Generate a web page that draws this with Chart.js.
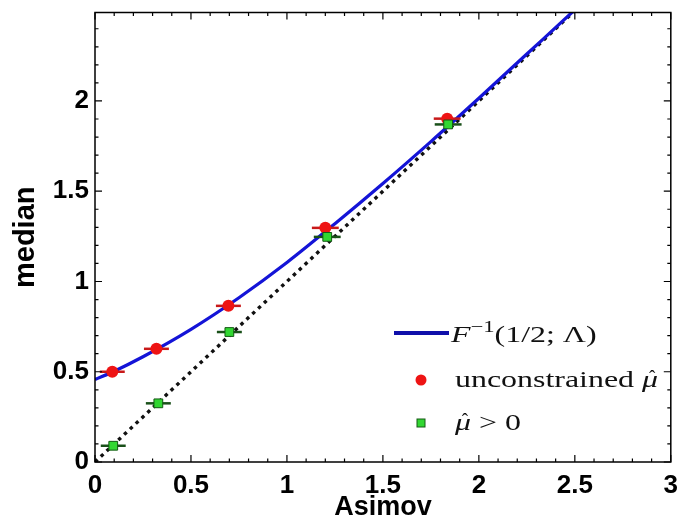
<!DOCTYPE html>
<html><head><meta charset="utf-8">
<script src="https://cdn.jsdelivr.net/npm/chart.js@4/dist/chart.umd.min.js"></script>
<style>html,body{margin:0;padding:0;background:#fff;}</style>
</head><body>
<canvas id="c" width="678" height="524"></canvas>
<script>
// ---- data ----
const curveX = [0, 0.1, 0.25, 0.5, 0.75, 1.0, 1.25, 1.5, 1.75, 2.0, 2.25, 2.5, 2.6];
const curveY = [0.457, 0.503, 0.583, 0.735, 0.91, 1.105, 1.32, 1.543, 1.775, 2.015, 2.26, 2.505, 2.605];
const diagX = [0, 2.6];
const diagY = [0, 2.6];
const redX = [0.09, 0.32, 0.695, 1.2, 1.835];
const redY = [0.50, 0.627, 0.865, 1.297, 1.902];
const redErr = [0.065, 0.065, 0.065, 0.07, 0.07];
const greenX = [0.095, 0.33, 0.70, 1.21, 1.84];
const greenY = [0.09, 0.325, 0.72, 1.247, 1.87];
const greenErr = [0.065, 0.065, 0.065, 0.07, 0.07];
const xTickVals = [0, 0.5, 1, 1.5, 2, 2.5, 3];
const yTickVals = [0, 0.5, 1, 1.5, 2];
const xTitle = 'Asimov';
const yTitle = 'median';

const pts = (xs, ys) => xs.map((x, i) => ({x, y: ys[i]}));
const BLUE = 'rgb(20,20,215)';
const RED = 'rgb(238,20,20)';
const GREEN = 'rgb(50,215,50)';

const errorBars = {
  id: 'errorBars',
  beforeDatasetDraw(chart, args) {
    const ds = chart.data.datasets[args.index];
    if (!ds.xErr) return;
    const {ctx, scales: {x, y}} = chart;
    ctx.save();
    ctx.strokeStyle = ds.errColor;
    ctx.lineWidth = 2.5;
    ds.data.forEach((p, i) => {
      const py = y.getPixelForValue(p.y);
      ctx.beginPath();
      ctx.moveTo(x.getPixelForValue(p.x - ds.xErr[i]), py);
      ctx.lineTo(x.getPixelForValue(p.x + ds.xErr[i]), py);
      ctx.stroke();
    });
    ctx.restore();
  }
};

const frameTicks = {
  id: 'frameTicks',
  afterDraw(chart) {
    const {ctx, chartArea: a, scales: {x, y}} = chart;
    ctx.save();
    ctx.strokeStyle = '#000';
    ctx.lineWidth = 1.5;
    ctx.strokeRect(a.left, a.top, a.right - a.left, a.bottom - a.top);
    ctx.lineWidth = 1.2;
    ctx.beginPath();
    for (let i = 0; i <= 30; i++) {
      const px = x.getPixelForValue(i / 10);
      const len = i % 5 === 0 ? 7 : 3.5;
      ctx.moveTo(px, a.bottom); ctx.lineTo(px, a.bottom - len);
      ctx.moveTo(px, a.top); ctx.lineTo(px, a.top + len);
    }
    for (let i = 0; i <= 24; i++) {
      const py = y.getPixelForValue(i / 10);
      const len = i % 5 === 0 ? 7 : 3.5;
      ctx.moveTo(a.left, py); ctx.lineTo(a.left + len, py);
      ctx.moveTo(a.right, py); ctx.lineTo(a.right - len, py);
    }
    ctx.stroke();
    ctx.restore();
  }
};

function drawRuns(ctx, x0, baseline, sx, runs) {
  let cx = x0;
  const pos = [];
  runs.forEach(r => {
    ctx.font = r.font;
    const w = ctx.measureText(r.t).width * sx;
    ctx.save();
    ctx.translate(cx, baseline + (r.dy || 0));
    ctx.scale(sx, 1);
    ctx.fillText(r.t, 0, 0);
    ctx.restore();
    pos.push({x: cx, w});
    cx += w;
  });
  return pos;
}

const legendPlugin = {
  id: 'legendBox',
  afterDraw(chart) {
    const ctx = chart.ctx;
    ctx.save();
    ctx.strokeStyle = 'rgb(15,15,170)';
    ctx.lineWidth = 4;
    ctx.beginPath(); ctx.moveTo(394, 333); ctx.lineTo(449, 333); ctx.stroke();
    ctx.fillStyle = RED;
    ctx.beginPath(); ctx.arc(421, 380, 5.5, 0, Math.PI * 2); ctx.fill();
    ctx.fillStyle = GREEN; ctx.strokeStyle = 'rgb(20,90,20)'; ctx.lineWidth = 1;
    ctx.fillRect(417, 419, 8, 8); ctx.strokeRect(417, 419, 8, 8);

    ctx.fillStyle = '#111';
    ctx.textBaseline = 'alphabetic';
    const serif = 'Liberation Serif';
    const sx = 1.33;
    drawRuns(ctx, 451, 342, sx, [
      {t: 'F', font: `italic 24px ${serif}`},
      {t: '\u22121', font: `17px ${serif}`, dy: -10},
      {t: '(1/2; \u039B)', font: `24px ${serif}`}
    ]);
    const p2 = drawRuns(ctx, 455, 387, sx, [
      {t: 'unconstrained ', font: `24px ${serif}`},
      {t: '\u03BC', font: `italic 24px ${serif}`}
    ]);
    const p3 = drawRuns(ctx, 455, 430, sx, [
      {t: '\u03BC', font: `italic 24px ${serif}`},
      {t: ' > 0', font: `24px ${serif}`}
    ]);
    ctx.font = `19px ${serif}`;
    ctx.textAlign = 'center';
    [[p2[1], 387], [p3[0], 430]].forEach(([p, b]) => {
      ctx.fillText('\u02C6', p.x + p.w / 2 + 2, b - 4);
    });
    ctx.restore();
  }
};

const tickFont = {family: 'Liberation Sans', size: 26, weight: 'bold'};

new Chart(document.getElementById('c'), {
  type: 'scatter',
  data: {
    datasets: [
      {label: 'mu>0', data: pts(greenX, greenY), pointStyle: 'rect', pointRadius: 6.2,
       backgroundColor: GREEN, borderColor: 'rgb(20,90,20)', borderWidth: 1,
       xErr: greenErr, errColor: 'rgb(25,80,25)'},
      {label: 'unconstrained', data: pts(redX, redY), pointStyle: 'circle', pointRadius: 6,
       backgroundColor: RED, borderColor: RED, borderWidth: 0,
       xErr: redErr, errColor: 'rgb(200,25,25)'},
      {type: 'line', label: 'F', data: pts(curveX, curveY), borderColor: BLUE, borderWidth: 3.2,
       pointRadius: 0, cubicInterpolationMode: 'monotone', fill: false, clip: 0},
      {type: 'line', label: 'diag', data: pts(diagX, diagY), borderColor: '#111', borderWidth: 3.4,
       borderDash: [3.5, 4.5], pointRadius: 0, fill: false, clip: 0}
    ]
  },
  options: {
    responsive: false,
    animation: false,
    devicePixelRatio: 1,
    layout: {padding: {top: 12.5, right: 6, left: 0, bottom: 0}},
    plugins: {legend: {display: false}, tooltip: {enabled: false}},
    scales: {
      x: {
        type: 'linear', min: 0, max: 3,
        afterBuildTicks: s => { s.ticks = xTickVals.map(v => ({value: v})); },
        afterFit: s => { s.height = 62; s.paddingLeft = 0; s.paddingRight = 0; },
        ticks: {font: tickFont, color: '#000', padding: 8, maxRotation: 0, autoSkip: false,
                callback: v => String(v)},
        grid: {display: false, drawTicks: false},
        border: {display: false},
        title: {display: true, text: xTitle, color: '#000',
                font: {family: 'Liberation Sans', size: 27, weight: 'bold'}, padding: {top: 0, bottom: 0}}
      },
      y: {
        type: 'linear', min: 0, max: 2.49,
        afterBuildTicks: s => { s.ticks = yTickVals.map(v => ({value: v})); },
        afterFit: s => { s.width = 95; s.paddingTop = 0; s.paddingBottom = 0; },
        ticks: {font: tickFont, color: '#000', padding: 6, autoSkip: false, callback: v => String(v)},
        grid: {display: false, drawTicks: false},
        border: {display: false},
        title: {display: true, text: yTitle, color: '#000',
                font: {family: 'Liberation Sans', size: 29, weight: 'bold'}, padding: {top: 9, bottom: 0}}
      }
    }
  },
  plugins: [errorBars, frameTicks, legendPlugin]
});
</script>
</body></html>
